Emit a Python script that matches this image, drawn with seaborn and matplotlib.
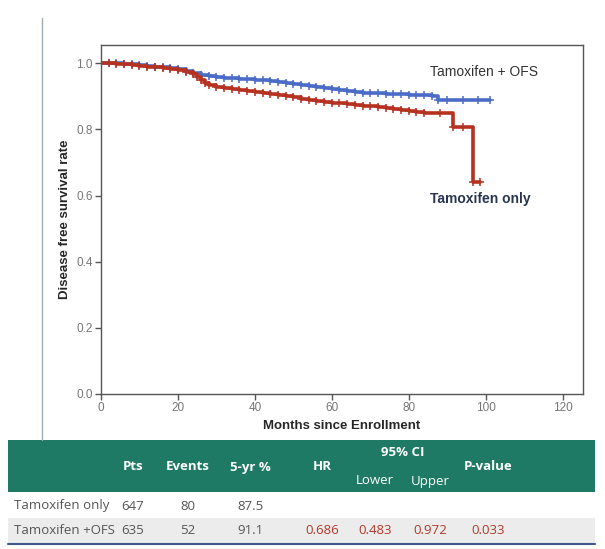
import matplotlib
matplotlib.use("Agg")
import matplotlib.pyplot as plt
import pandas as pd
import seaborn as sns

# Kaplan-Meier steps
ofs_months = [0, 2, 4, 6, 8, 10, 12, 14, 16, 18, 20, 22, 24, 26, 28, 30, 32, 34, 36,
              38, 40, 42, 44, 46, 48, 50, 52, 54, 56, 58, 60, 62, 64, 66, 68, 70, 72,
              74, 76, 78, 80, 82, 84, 86, 87.5, 90, 94, 98, 101]
ofs_surv = [1.0, 1.0, 1.0, 0.998, 0.997, 0.995, 0.993, 0.99, 0.988, 0.985, 0.982,
            0.976, 0.969, 0.964, 0.961, 0.958, 0.956, 0.955, 0.953, 0.952, 0.95,
            0.948, 0.946, 0.943, 0.94, 0.937, 0.933, 0.93, 0.927, 0.924, 0.921,
            0.918, 0.915, 0.913, 0.911, 0.91, 0.909, 0.908, 0.907, 0.906, 0.905,
            0.904, 0.903, 0.902, 0.889, 0.888, 0.888, 0.888, 0.888]
tam_months = [0, 2, 4, 6, 8, 10, 12, 14, 16, 18, 20, 22, 24, 25, 26, 27, 28, 30, 32,
              34, 36, 38, 40, 42, 44, 46, 48, 50, 52, 54, 56, 58, 60, 62, 64, 66, 68,
              70, 72, 74, 76, 78, 80, 82, 84, 88, 91.5, 94, 96.8, 98.6]
tam_surv = [1.0, 1.0, 0.999, 0.998, 0.995, 0.993, 0.99, 0.988, 0.985, 0.982, 0.978,
            0.974, 0.967, 0.958, 0.95, 0.94, 0.935, 0.928, 0.924, 0.921, 0.918,
            0.915, 0.912, 0.909, 0.906, 0.903, 0.9, 0.897, 0.893, 0.89, 0.887,
            0.884, 0.881, 0.879, 0.877, 0.875, 0.872, 0.87, 0.868, 0.865, 0.862,
            0.859, 0.855, 0.852, 0.85, 0.85, 0.807, 0.807, 0.642, 0.642]

x_ticks = [0, 20, 40, 60, 80, 100, 120]
y_ticks = [0.0, 0.2, 0.4, 0.6, 0.8, 1.0]

# summary table
groups = ["Tamoxifen only", "Tamoxifen +OFS"]
pts = ["647", "635"]
events = ["80", "52"]
five_yr = ["87.5", "91.1"]
hr = ["", "0.686"]
ci_lower = ["", "0.483"]
ci_upper = ["", "0.972"]
p_value = ["", "0.033"]

BLUE = "#4a6cc6"
RED = "#b53220"
TEAL = "#1f7a65"
STAT_RED = "#b0392b"

sns.set_style("white")
plt.rcParams['font.family'] = ['Liberation Sans', 'DejaVu Sans']

fig = plt.figure(figsize=(6.05, 5.49), dpi=100)
fig.patch.set_facecolor("white")

# slide decoration line
fig.add_artist(plt.Line2D([42 / 605, 42 / 605], [1 - 18 / 549, 1 - 440 / 549],
                          color="#9fa9b3", lw=1.0))

ax = fig.add_axes([101 / 605, 1 - 394 / 549, 482 / 605, 349 / 549])

df_ofs = pd.DataFrame({"month": ofs_months, "surv": ofs_surv})
df_tam = pd.DataFrame({"month": tam_months, "surv": tam_surv})

for d, c in [(df_ofs, BLUE), (df_tam, RED)]:
    sns.lineplot(data=d, x="month", y="surv", ax=ax, color=c, lw=2.6,
                 drawstyle="steps-post", estimator=None, sort=False,
                 marker="+", markersize=6, markeredgewidth=1.1,
                 markeredgecolor=c, markerfacecolor=c)

ax.set_xlim(0, 125.3)
ax.set_ylim(0, 1.055)
ax.set_xticks(x_ticks)
ax.set_yticks(y_ticks)
ax.set_yticklabels([f"{v:.1f}" for v in y_ticks])
ax.tick_params(axis="both", direction="out", length=4, width=1, colors="#555555",
               labelsize=8.5, labelcolor="#777777", pad=2, left=True, bottom=True)
for sp in ax.spines.values():
    sp.set_color("#555555")
    sp.set_linewidth(1.0)

ax.set_xlabel("Months since Enrollment", fontsize=9.5, fontweight="bold", labelpad=4)
ax.set_ylabel("Disease free survival rate", fontsize=9.5, fontweight="bold", labelpad=4)

ax.text(85.4, 0.973, "Tamoxifen + OFS", fontsize=10, color="#333333", va="center")
ax.text(85.4, 0.588, "Tamoxifen only", fontsize=10, color="#2a3552",
        fontweight="bold", va="center")

# table
tax = fig.add_axes([0, 0, 1, 1 - 438 / 549])
tax.set_xlim(0, 605)
tax.set_ylim(549 - 438, 0)
tax.axis("off")

def ypix(y):
    return y - 438

tax.add_patch(plt.Rectangle((8, ypix(440)), 587, 52, color=TEAL, lw=0))
tax.add_patch(plt.Rectangle((8, ypix(518)), 587, 25, color="#ececec", lw=0))
tax.plot([8, 595], [ypix(544), ypix(544)], color="#3d5a8e", lw=1.5)

tfont = ['Open Sans', 'DejaVu Sans']
col_x = [133, 188, 250, 322, 375, 430, 488]
head_y = ypix(467)
for cx, h in zip(col_x[:4], ["Pts", "Events", "5-yr %", "HR"]):
    tax.text(cx, head_y, h, color="white", fontsize=9.5, fontweight="bold",
             ha="center", va="center", family=tfont)
tax.text(col_x[6], head_y, "P-value", color="white", fontsize=9.5, fontweight="bold",
         ha="center", va="center", family=tfont)
tax.text(403, ypix(452), "95% CI", color="white", fontsize=9.5, fontweight="bold",
         ha="center", va="center", family=tfont)
tax.text(col_x[4], ypix(481), "Lower", color="white", fontsize=9.5,
         ha="center", va="center", family=tfont)
tax.text(col_x[5], ypix(481), "Upper", color="white", fontsize=9.5,
         ha="center", va="center", family=tfont)

row_y = [ypix(506), ypix(530)]
for i, g in enumerate(groups):
    tax.text(14, row_y[i], g, color="#555555", fontsize=9.5, ha="left", va="center",
             family=tfont)
    vals = [pts[i], events[i], five_yr[i], hr[i], ci_lower[i], ci_upper[i], p_value[i]]
    for j, (cx, v) in enumerate(zip(col_x, vals)):
        tax.text(cx, row_y[i], v, color="#555555" if j < 3 else STAT_RED,
                 fontsize=9.5, ha="center", va="center", family=tfont)

fig.savefig("out.png", dpi=100)
